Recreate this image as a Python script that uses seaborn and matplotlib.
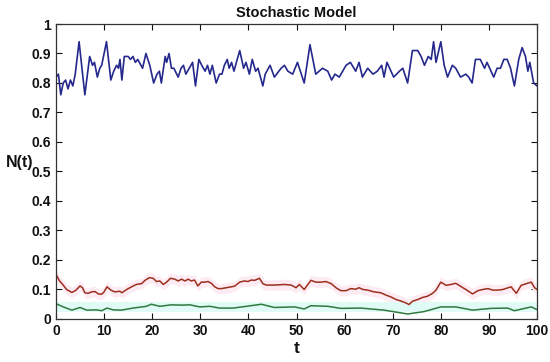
import numpy as np
import pandas as pd
import seaborn as sns
import matplotlib.pyplot as plt

# Values
t_blue = [0, 0.5, 1, 1.5, 2, 2.5, 3, 3.5, 4, 4.8, 6.0, 7.0, 7.6, 8, 8.6, 9.1, 9.5, 10.5, 11.4, 12,
          12.6, 13, 13.3, 13.7, 14.2, 15, 15.5, 16, 16.5, 17, 18, 18.7, 19.5, 20.3, 21, 21.5, 21.9,
          22.7, 23, 23.5, 24, 24.5, 25.4, 26, 26.5, 27, 28.4, 29, 29.7, 30.3, 31, 31.5, 32, 32.5,
          33.3, 34, 34.5, 35, 35.6, 36, 36.5, 37, 37.5, 38.2, 39, 39.5, 40.2, 40.8, 41.5, 42, 43,
          43.5, 44.5, 45.4, 46.8, 47.5, 48.2, 49.2, 50.2, 51.6, 52.8, 54, 55.4, 56.5, 57.3, 58,
          58.9, 60.3, 61.2, 62.3, 63, 63.7, 64.8, 65.9, 66.8, 67.7, 68.2, 68.8, 70.2, 71.4, 72.1,
          73.1, 74.1, 75.2, 75.9, 76.6, 77.4, 78, 78.5, 79, 80, 80.7, 81.4, 82.4, 83.1, 84.1, 85.2,
          85.8, 86.5, 87.2, 88.2, 89.1, 89.6, 91, 91.7, 92.4, 93.1, 93.8, 94.5, 95.3, 96.2, 96.9,
          97.6, 98.1, 98.5, 99.3, 100]
n_blue = [0.82, 0.83, 0.76, 0.80, 0.81, 0.78, 0.81, 0.79, 0.83, 0.94, 0.76, 0.89, 0.86, 0.87, 0.82,
          0.85, 0.86, 0.94, 0.81, 0.84, 0.86, 0.85, 0.88, 0.81, 0.89, 0.89, 0.88, 0.89, 0.87, 0.88,
          0.85, 0.90, 0.86, 0.80, 0.83, 0.84, 0.80, 0.89, 0.87, 0.90, 0.85, 0.85, 0.82, 0.85, 0.86,
          0.83, 0.87, 0.79, 0.88, 0.86, 0.84, 0.86, 0.83, 0.86, 0.80, 0.83, 0.83, 0.86, 0.88, 0.85,
          0.87, 0.84, 0.87, 0.91, 0.85, 0.87, 0.83, 0.88, 0.84, 0.85, 0.79, 0.83, 0.86, 0.82, 0.85,
          0.86, 0.84, 0.83, 0.87, 0.80, 0.93, 0.83, 0.85, 0.84, 0.81, 0.83, 0.82, 0.86, 0.87, 0.84,
          0.87, 0.82, 0.85, 0.83, 0.84, 0.86, 0.82, 0.87, 0.82, 0.84, 0.85, 0.80, 0.91, 0.91, 0.89,
          0.86, 0.89, 0.88, 0.94, 0.87, 0.94, 0.86, 0.82, 0.86, 0.85, 0.82, 0.83, 0.82, 0.80, 0.88,
          0.88, 0.85, 0.87, 0.82, 0.85, 0.85, 0.88, 0.88, 0.85, 0.79, 0.88, 0.92, 0.89, 0.84, 0.87,
          0.80, 0.79]

t_red = [0, 0.7, 1.5, 2.2, 3.3, 4.1, 5, 5.5, 6, 6.7, 7.4, 8.1, 8.8, 9.5, 10, 10.6, 11.4, 12.2, 13.3,
         13.7, 14.7, 15.7, 16.7, 17.8, 18.5, 19.4, 20.2, 20.9, 21.6, 22.3, 23, 23.8, 24.7, 25.4,
         26.1, 26.8, 27.5, 28.1, 28.8, 29.5, 30.2, 30.9, 31.6, 32.3, 33, 33.7, 34.4, 35.4, 36.4,
         37.1, 38.2, 39.2, 39.9, 40.6, 41.3, 42.3, 43, 43.7, 45.4, 47.5, 48.9, 49.9, 50.6, 51.6,
         53, 54, 55.1, 56.1, 57.2, 58.2, 59.2, 60.3, 61.3, 62.3, 63, 63.8, 64.8, 66.1, 67.5, 68.6,
         69.6, 70.7, 71.7, 72.8, 73.4, 74.1, 75.2, 76.2, 77.2, 78.3, 79, 80, 81.1, 82.1, 83.1,
         84.2, 85.2, 86.6, 87.7, 88.7, 89.8, 90.8, 91.9, 92.9, 94, 94.6, 95.7, 96.7, 97.8, 98.8,
         99.5, 100]
n_red = [0.151, 0.13, 0.115, 0.10, 0.09, 0.097, 0.112, 0.106, 0.089, 0.087, 0.092, 0.093, 0.085,
         0.084, 0.092, 0.109, 0.098, 0.092, 0.094, 0.089, 0.10, 0.109, 0.117, 0.12, 0.131, 0.14,
         0.138, 0.127, 0.129, 0.117, 0.125, 0.138, 0.135, 0.129, 0.135, 0.129, 0.135, 0.129, 0.132,
         0.112, 0.125, 0.125, 0.127, 0.121, 0.109, 0.103, 0.103, 0.106, 0.109, 0.111, 0.125, 0.129,
         0.127, 0.132, 0.131, 0.138, 0.12, 0.115, 0.115, 0.117, 0.115, 0.106, 0.117, 0.10, 0.131,
         0.125, 0.125, 0.127, 0.12, 0.106, 0.096, 0.096, 0.103, 0.101, 0.106, 0.10, 0.098, 0.092,
         0.089, 0.081, 0.075, 0.066, 0.061, 0.054, 0.049, 0.06, 0.066, 0.073, 0.077, 0.087, 0.098,
         0.125, 0.114, 0.117, 0.121, 0.11, 0.10, 0.085, 0.096, 0.10, 0.103, 0.098, 0.098, 0.10,
         0.106, 0.109, 0.087, 0.114, 0.12, 0.125, 0.106, 0.10]

t_green = [0, 1.5, 3.3, 5, 6.4, 8.4, 9.5, 10.6, 11.9, 13.6, 16, 18.8, 19.8, 21.6, 24, 26.1, 27.8,
           29.9, 32, 34, 36.8, 39.6, 42.7, 45.4, 49.6, 51.6, 53, 56.5, 59.2, 63.4, 68.2, 73.1,
           76.5, 80, 83.1, 86.6, 90.4, 93.9, 95.3, 98.8, 100]
n_green = [0.052, 0.041, 0.03, 0.039, 0.03, 0.031, 0.028, 0.037, 0.031, 0.03, 0.037, 0.043, 0.05,
           0.043, 0.048, 0.047, 0.048, 0.041, 0.043, 0.037, 0.037, 0.043, 0.05, 0.039, 0.041,
           0.034, 0.045, 0.043, 0.036, 0.037, 0.03, 0.017, 0.025, 0.041, 0.041, 0.03, 0.036,
           0.037, 0.028, 0.041, 0.032]

x_ticks = list(range(0, 101, 10))
y_ticks = [0, 0.1, 0.2, 0.3, 0.4, 0.5, 0.6, 0.7, 0.8, 0.9, 1]
y_labels = ['0', '0.1', '0.2', '0.3', '0.4', '0.5', '0.6', '0.7', '0.8', '0.9', '1']

blue_df = pd.DataFrame({'t': t_blue, 'N': n_blue})
red_df = pd.DataFrame({'t': t_red, 'N': n_red})
green_df = pd.DataFrame({'t': t_green, 'N': n_green})

sns.set_style('ticks')
plt.rcParams['font.family'] = ['Liberation Sans', 'DejaVu Sans']
plt.rcParams['font.weight'] = 'bold'
plt.rcParams['text.color'] = '#111111'
plt.rcParams['axes.labelcolor'] = '#111111'

fig = plt.figure(figsize=(5.5, 3.62), dpi=100)
ax = fig.add_axes([0.1018, 0.1188, 0.8746, 0.8149])

# faint shaded bands behind the two lower curves
ax.fill_between(red_df['t'], red_df['N'] - 0.018, red_df['N'] + 0.018, color='#fdebf3', lw=0)
ax.fill_between(green_df['t'], 0.025, 0.056, color='#e0fbf5', lw=0)

sns.lineplot(data=blue_df, x='t', y='N', ax=ax, color='#25288c', lw=1.2)
sns.lineplot(data=red_df, x='t', y='N', ax=ax, color='#9c2f1e', lw=1.1)
sns.lineplot(data=green_df, x='t', y='N', ax=ax, color='#2f7a3e', lw=1.1)

ax.set_xlim(0, 100)
ax.set_ylim(0, 1)
ax.set_xticks(x_ticks)
ax.set_yticks(y_ticks)
ax.set_yticklabels(y_labels)
ax.tick_params(direction='in', top=True, right=True, length=4, width=0.8,
               labelsize=10, colors='#111111')
for lab in ax.get_xticklabels() + ax.get_yticklabels():
    lab.set_fontweight('bold')
for sp in ax.spines.values():
    sp.set_visible(True)
    sp.set_color('#333333')
    sp.set_linewidth(0.9)

ax.set_title('Stochastic Model', fontsize=10.5, fontweight='bold', pad=5)
ax.set_xlabel('t', fontsize=12.5, fontweight='bold', labelpad=2)
ax.set_ylabel('N(t)', fontsize=11.5, fontweight='bold', rotation=0, labelpad=12, va='center')
ax.yaxis.set_label_coords(-0.075, 0.53)

fig.savefig('out.png', dpi=100)
